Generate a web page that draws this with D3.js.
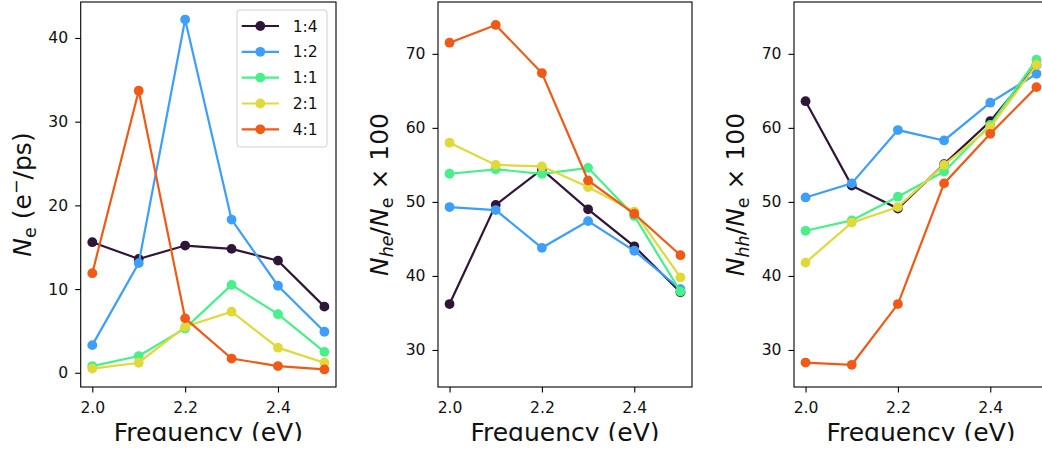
<!DOCTYPE html>
<html>
<head>
<meta charset="utf-8">
<script src="https://cdn.jsdelivr.net/npm/d3@7"></script>
<style>
  html, body { margin: 0; padding: 0; background: #fff; }
  svg { display: block; }
  text { font-family: "DejaVu Sans", sans-serif; fill: #111; }
</style>
</head>
<body>
<svg id="chart" width="1042" height="441"></svg>
<script>
// ---- data ----
const freqs = [2.0, 2.1, 2.2, 2.3, 2.4, 2.5];
const ratios = ["1:4", "1:2", "1:1", "2:1", "4:1"];
const colors = ["#2f1638", "#3d9ffb", "#47f08a", "#dfd93a", "#f05a16"];
const xTicks = [2.0, 2.2, 2.4];

const ne_14 = [15.6, 13.6, 15.2, 14.8, 13.4, 7.9];
const ne_12 = [3.3, 13.1, 42.2, 18.3, 10.4, 4.9];
const ne_11 = [0.8, 2.0, 5.3, 10.5, 7.0, 2.5];
const ne_21 = [0.5, 1.2, 5.5, 7.3, 3.0, 1.2];
const ne_41 = [11.9, 33.7, 6.5, 1.7, 0.8, 0.4];
const neTicks = [0, 10, 20, 30, 40];

const he_14 = [36.2, 49.6, 54.4, 49.0, 44.0, 37.8];
const he_12 = [49.3, 48.9, 43.8, 47.4, 43.4, 38.2];
const he_11 = [53.8, 54.4, 53.8, 54.6, 48.1, 37.9];
const he_21 = [58.0, 55.0, 54.8, 52.0, 48.7, 39.8];
const he_41 = [71.5, 73.9, 67.4, 52.9, 48.4, 42.8];

const hh_14 = [63.6, 52.2, 49.1, 55.1, 60.9, 68.5];
const hh_12 = [50.6, 52.5, 59.7, 58.3, 63.4, 67.3];
const hh_11 = [46.1, 47.5, 50.7, 54.1, 60.4, 69.2];
const hh_21 = [41.8, 47.2, 49.3, 55.0, 60.1, 68.5];
const hh_41 = [28.3, 28.0, 36.2, 52.5, 59.2, 65.5];
const ratioTicks = [30, 40, 50, 60, 70];

// ---- layout ----
const svg = d3.select("#chart");
const axTop = 2, axBottom = 387;
const panels = [
  { left: 80.7, right: 336, series: [ne_14, ne_12, ne_11, ne_21, ne_41], yDomain: [-1.7, 44.3], yTicks: neTicks, label: "ne", legend: true },
  { left: 438, right: 692, series: [he_14, he_12, he_11, he_21, he_41], yDomain: [25.0, 77.0], yTicks: ratioTicks, label: "he" },
  { left: 794, right: 1048, series: [hh_14, hh_12, hh_11, hh_21, hh_41], yDomain: [25.0, 77.0], yTicks: ratioTicks, label: "hh" }
];
const tickFont = 15.6;

panels.forEach(p => {
  const x = d3.scaleLinear().domain([1.975, 2.525]).range([p.left, p.right]);
  const y = d3.scaleLinear().domain(p.yDomain).range([axBottom, axTop]);
  const g = svg.append("g");

  // axes
  const xa = g.append("g").attr("transform", `translate(0,${axBottom})`)
    .call(d3.axisBottom(x).tickValues(xTicks).tickFormat(d3.format(".1f")).tickSize(5.5).tickPadding(9.5));
  const ya = g.append("g").attr("transform", `translate(${p.left},0)`)
    .call(d3.axisLeft(y).tickValues(p.yTicks).tickFormat(d3.format("d")).tickSize(5.5).tickPadding(7));
  [xa, ya].forEach(a => {
    a.select(".domain").remove();
    a.selectAll(".tick line").attr("stroke", "#000").attr("stroke-width", 1.1);
    a.selectAll(".tick text").style("font-family", "DejaVu Sans").style("font-size", tickFont + "px").attr("fill", "#222");
  });

  // lines and markers
  const line = d3.line().x((d, i) => x(freqs[i])).y(d => y(d));
  p.series.forEach((s, k) => {
    g.append("path").datum(s).attr("d", line)
      .attr("fill", "none").attr("stroke", colors[k]).attr("stroke-width", 2.2);
    g.selectAll(null).data(s).enter().append("circle")
      .attr("cx", (d, i) => x(freqs[i])).attr("cy", d => y(d)).attr("r", 4.9)
      .attr("fill", colors[k]);
  });

  // frame
  g.append("rect").attr("x", p.left).attr("y", axTop).attr("width", p.right - p.left).attr("height", axBottom - axTop)
    .attr("fill", "none").attr("stroke", "#000").attr("stroke-width", 1.1);

  // x label
  g.append("text").attr("x", (p.left + p.right) / 2).attr("y", 441)
    .attr("text-anchor", "middle").style("font-size", "25px").text("Frequency (eV)");

  // y label
  const yl = g.append("text")
    .attr("transform", `translate(${p.left - 50},${(axTop + axBottom) / 2}) rotate(-90)`)
    .attr("text-anchor", "middle").style("font-size", "25px");
  if (p.label === "ne") {
    yl.append("tspan").style("font-style", "italic").text("N");
    yl.append("tspan").attr("dy", 5).style("font-size", "17.5px").text("e");
    yl.append("tspan").attr("dy", -5).text(" (e");
    yl.append("tspan").attr("dy", -9).style("font-size", "17.5px").text("−");
    yl.append("tspan").attr("dy", 9).text("/ps)");
  } else {
    yl.append("tspan").style("font-style", "italic").text("N");
    yl.append("tspan").attr("dy", 5).style("font-size", "17.5px").style("font-style", "italic").text(p.label);
    yl.append("tspan").attr("dy", -5).text("/");
    yl.append("tspan").style("font-style", "italic").text("N");
    yl.append("tspan").attr("dy", 5).style("font-size", "17.5px").text("e");
    yl.append("tspan").attr("dy", -5).text(" × 100");
  }

  // legend
  if (p.legend) {
    const lg = g.append("g");
    lg.append("rect").attr("x", 237).attr("y", 10).attr("width", 90).attr("height", 137)
      .attr("rx", 3).attr("fill", "#fff").attr("fill-opacity", 0.8)
      .attr("stroke", "#d0d0d0").attr("stroke-width", 1);
    const ly = d3.scaleLinear().domain([0, 4]).range([26, 129.3]);
    ratios.forEach((r, k) => {
      lg.append("line").attr("x1", 241.7).attr("x2", 279).attr("y1", ly(k)).attr("y2", ly(k))
        .attr("stroke", colors[k]).attr("stroke-width", 2.2);
      lg.append("circle").attr("cx", 260.3).attr("cy", ly(k)).attr("r", 4.9).attr("fill", colors[k]);
      lg.append("text").attr("x", 292.7).attr("y", ly(k)).attr("dy", "0.36em")
        .style("font-size", "15.6px").text(r);
    });
  }
});
</script>
</body>
</html>
